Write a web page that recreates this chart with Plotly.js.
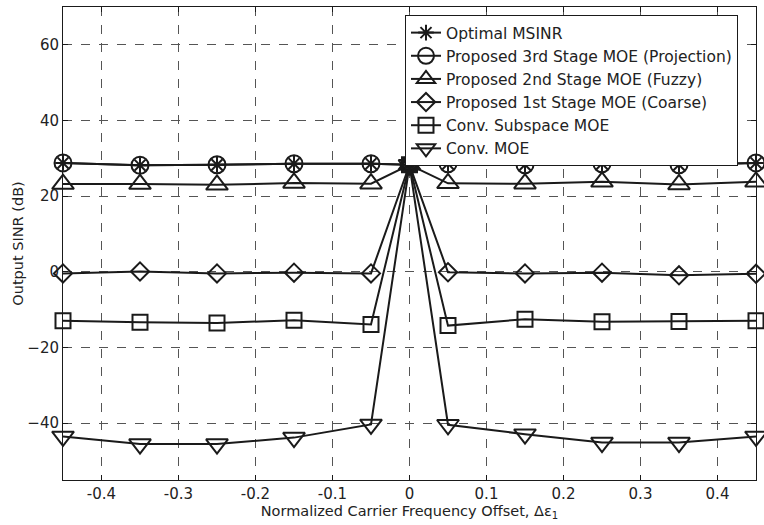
<!DOCTYPE html>
<html>
<head>
<meta charset="utf-8">
<script src="https://cdn.plot.ly/plotly-3.0.1.min.js"></script>
<style>html,body{margin:0;padding:0;background:#fff;}#chart{width:764px;height:525px;}</style>
</head>
<body>
<div id="chart"></div>
<script>
var cfoOffset = [-0.45, -0.35, -0.25, -0.15, -0.05, 0, 0.05, 0.15, 0.25, 0.35, 0.45];
var optimalMSINR = [28.8, 28.2, 28.3, 28.6, 28.6, 28.3, 28.6, 28.3, 28.6, 28.3, 28.8];
var stage3Projection = [28.8, 28.2, 28.3, 28.6, 28.6, 28.3, 28.6, 28.3, 28.6, 28.3, 28.8];
var stage2Fuzzy = [23.2, 23.2, 23.0, 23.5, 23.3, 28.3, 23.4, 23.3, 23.8, 23.1, 23.8];
var stage1Coarse = [-0.4, 0.1, -0.4, -0.2, -0.4, 28.3, -0.1, -0.4, -0.2, -0.9, -0.5];
var convSubspace = [-12.9, -13.3, -13.5, -12.8, -13.9, 28.3, -14.2, -12.5, -13.2, -13.1, -12.9];
var convMOE = [-43.5, -45.5, -45.5, -43.8, -40.3, 28.3, -40.4, -42.9, -45.1, -45.1, -43.5];
var seriesNames = ['Optimal MSINR', 'Proposed 3rd Stage MOE (Projection)', 'Proposed 2nd Stage MOE (Fuzzy)', 'Proposed 1st Stage MOE (Coarse)', 'Conv. Subspace MOE', 'Conv. MOE'];
var xTickVals = [-0.4, -0.3, -0.2, -0.1, 0, 0.1, 0.2, 0.3, 0.4];
var yTickVals = [-40, -20, 0, 20, 40, 60];

var ink = '#1a1a1a';
var fam = 'DejaVu Sans, Liberation Sans, sans-serif';
function mk(y, name, symbol, size) {
  return {
    x: cfoOffset, y: y, name: name, type: 'scatter', mode: 'lines+markers',
    line: {color: ink, width: 2},
    marker: {symbol: symbol, size: size, color: ink, line: {color: ink, width: 2}},
    cliponaxis: false
  };
}
var data = [
  mk(optimalMSINR, seriesNames[0], 'asterisk-open', 13),
  mk(stage3Projection, seriesNames[1], 'circle-open', 17),
  mk(stage2Fuzzy, seriesNames[2], 'triangle-up-open', 19),
  mk(stage1Coarse, seriesNames[3], 'diamond-open', 14),
  mk(convSubspace, seriesNames[4], 'square-open', 15),
  mk(convMOE, seriesNames[5], 'triangle-down-open', 19)
];
var tickFont = {family: fam, size: 15, color: '#222'};
var titleFont = {family: fam, size: 14.5, color: '#222'};
var layout = {
  width: 764, height: 525,
  margin: {l: 63, r: 8, t: 7, b: 45},
  paper_bgcolor: '#fff', plot_bgcolor: '#fff',
  font: tickFont,
  showlegend: true,
  xaxis: {
    range: [-0.45, 0.45], tickvals: xTickVals, ticktext: xTickVals.map(function(v){return String(v);}),
    ticks: 'inside', ticklen: 5, tickcolor: ink, showline: true, linecolor: ink, linewidth: 1, mirror: 'ticks',
    showgrid: true, gridcolor: '#555', griddash: 'dash', gridwidth: 1, zeroline: false,
    tickfont: tickFont,
    title: {text: 'Normalized Carrier Frequency Offset, \u0394\u03b5<sub>1</sub>', font: titleFont, standoff: 3}
  },
  yaxis: {
    range: [-55, 70], tickvals: yTickVals,
    ticks: 'inside', ticklen: 5, tickcolor: ink, showline: true, linecolor: ink, linewidth: 1, mirror: 'ticks',
    showgrid: true, gridcolor: '#555', griddash: 'dash', gridwidth: 1, zeroline: false,
    tickfont: tickFont,
    title: {text: 'Output SINR (dB)', font: titleFont, standoff: 0}
  },
  legend: {
    x: 0.4935, y: 0.983, xanchor: 'left', yanchor: 'top',
    bgcolor: '#fff', bordercolor: ink, borderwidth: 1,
    font: {family: fam, size: 15.5, color: '#222'},
    tracegroupgap: 0, itemwidth: 30
  }
};
Plotly.newPlot('chart', data, layout, {displayModeBar: false, staticPlot: true});
</script>
</body>
</html>
